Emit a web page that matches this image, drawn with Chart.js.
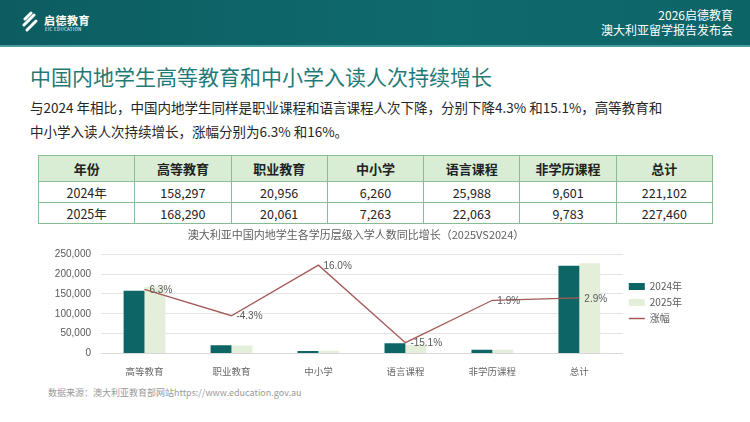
<!DOCTYPE html>
<html>
<head>
<meta charset="utf-8">
<script src="https://cdn.jsdelivr.net/npm/chart.js@4"></script>
<style>
  body { margin: 0; width: 750px; height: 422px; overflow: hidden; background: #fff; font-family: "Noto Sans CJK SC", "Noto Sans", sans-serif; position: relative; }
  .header { position: absolute; left: 0; top: 0; width: 750px; height: 45px; background: linear-gradient(90deg, #0c5d61, #0f6a6d 60%, #0d6467); border-bottom: 2px solid #4a9f9c; }
  .logo { position: absolute; left: 22px; top: 11px; color: #fff; }
  .logo .cn { position: absolute; left: 22px; top: 1px; font-size: 11px; font-weight: 700; white-space: nowrap; letter-spacing: 0.5px; }
  .logo .en { position: absolute; left: 23px; top: 15px; font-size: 4.5px; white-space: nowrap; letter-spacing: 0.3px; }
  .hright { position: absolute; right: 17px; top: 7px; color: #fff; font-size: 12px; line-height: 15px; text-align: right; }
  .title { position: absolute; left: 30px; top: 61px; font-size: 21px; color: #1f7a77; white-space: nowrap; }
  .para { position: absolute; left: 30px; top: 95px; width: 700px; font-size: 13.5px; line-height: 24px; color: #262626; }
  table { position: absolute; left: 38px; top: 155px; width: 675px; border-collapse: collapse; table-layout: fixed; }
  td, th { border: 1px solid #86bd94; text-align: center; padding: 0; color: #222; }
  th { height: 25px; background: #d9edd4; font-size: 13px; font-weight: 700; }
  td { height: 20px; font-size: 12.5px; }
  .chartbox { position: absolute; left: 20px; top: 224px; width: 710px; height: 159px; }
  .foot { position: absolute; left: 48px; top: 386px; font-size: 9px; color: #9a9a9a; white-space: nowrap; }
</style>
</head>
<body>
<div class="header">
  <div class="logo">
    <svg width="18" height="22" viewBox="0 0 18 22">
      <path d="M3 8 L9 2" stroke="#fff" stroke-width="3" stroke-linecap="round"/>
      <path d="M2 14 L12 4" stroke="#fff" stroke-width="3" stroke-linecap="round"/>
      <path d="M5 19 L14 10" stroke="#fff" stroke-width="3" stroke-linecap="round"/>
    </svg>
    <span class="cn">启德教育</span>
    <span class="en">EIC EDUCATION</span>
  </div>
  <div class="hright">2026启德教育<br>澳大利亚留学报告发布会</div>
</div>
<div class="title">中国内地学生高等教育和中小学入读人次持续增长</div>
<div class="para">与2024 年相比，中国内地学生同样是职业课程和语言课程人次下降，分别下降4.3% 和15.1%，高等教育和<br>中小学入读人次持续增长，涨幅分别为6.3% 和16%。</div>
<table id="tbl"></table>
<div class="chartbox"><canvas id="myChart"></canvas></div>
<div class="foot">数据来源：澳大利亚教育部网站https://www.education.gov.au</div>
<script>
// data
const categories = ['高等教育', '职业教育', '中小学', '语言课程', '非学历课程', '总计'];
const years = ['2024年', '2025年'];
const values2024 = [158297, 20956, 6260, 25988, 9601, 221102];
const values2025 = [168290, 20061, 7263, 22063, 9783, 227460];
const growth = [6.3, -4.3, 16.0, -15.1, 1.9, 2.9];
const yTicks = [0, 50000, 100000, 150000, 200000, 250000];

// table
const fmt = v => v.toLocaleString('en-US');
let html = '<tr><th>年份</th>' + categories.map(c => '<th>' + c + '</th>').join('') + '</tr>';
[values2024, values2025].forEach((row, i) => {
    html += '<tr><td>' + years[i] + '</td>' + row.map(v => '<td>' + fmt(v) + '</td>').join('') + '</tr>';
});
document.getElementById('tbl').innerHTML = html;

// percent labels next to the line points
const lineLabels = {
    id: 'lineLabels',
    afterDatasetsDraw(chart) {
        const ctx = chart.ctx;
        const meta = chart.getDatasetMeta(2);
        ctx.save();
        ctx.font = '10px "Liberation Sans", "Noto Sans", sans-serif';
        ctx.fillStyle = '#595959';
        ctx.textBaseline = 'middle';
        meta.data.forEach((pt, i) => {
            ctx.fillText(growth[i].toFixed(1) + '%', pt.x + 5, pt.y + 1);
        });
        ctx.restore();
    }
};

const data = {
    labels: categories,
    datasets: [
        {
            label: years[0],
            data: values2024,
            backgroundColor: '#0e6566',
            categoryPercentage: 0.48,
            barPercentage: 1,
            order: 2
        }, {
            label: years[1],
            data: values2025,
            backgroundColor: '#e3efd9',
            categoryPercentage: 0.48,
            barPercentage: 1,
            order: 2
        }, {
            type: 'line',
            label: '涨幅',
            data: growth,
            yAxisID: 'y2',
            borderColor: '#a65a58',
            backgroundColor: '#a65a58',
            borderWidth: 1.3,
            pointRadius: 0,
            tension: 0,
            order: 1
        }
    ]
};

const config = {
    type: 'bar',
    data,
    plugins: [lineLabels],
    options: {
        responsive: true,
        maintainAspectRatio: false,
        animation: false,
        layout: { padding: { right: 38, bottom: 2 } },
        plugins: {
            title: {
                display: true,
                text: '澳大利亚中国内地学生各学历层级入学人数同比增长（2025VS2024）',
                color: '#606060',
                font: { size: 11, weight: 'normal', family: '"Noto Sans CJK SC", sans-serif' },
                padding: { top: 4, bottom: 13 }
            },
            legend: {
                position: 'right',
                labels: {
                    usePointStyle: true,
                    pointStyleWidth: 16,
                    boxHeight: 7,
                    padding: 6,
                    color: '#595959',
                    font: { size: 10, family: '"Noto Sans CJK SC", sans-serif' },
                    generateLabels(chart) {
                        const items = Chart.defaults.plugins.legend.labels.generateLabels(chart);
                        items.forEach(it => {
                            it.pointStyle = it.datasetIndex === 2 ? 'line' : 'rect';
                            it.lineWidth = it.datasetIndex === 2 ? 1.5 : 0;
                        });
                        return items.sort((a, b) => a.datasetIndex - b.datasetIndex);
                    }
                }
            },
            tooltip: { enabled: false }
        },
        scales: {
            x: {
                grid: { display: false },
                border: { color: '#d9d9d9' },
                ticks: {
                    color: '#666',
                    padding: 4,
                    font: { size: 9.5, family: '"Noto Sans CJK SC", serif' }
                }
            },
            y: {
                min: 0,
                max: 250000,
                afterBuildTicks(scale) {
                    scale.ticks = yTicks.map(v => ({ value: v }));
                },
                afterFit(scale) { scale.width = 81; },
                grid: { color: '#e4e4e4', drawTicks: false },
                border: { display: false },
                ticks: {
                    color: '#595959',
                    padding: 10,
                    font: { size: 10, family: '"Liberation Sans", sans-serif' },
                    callback: v => fmt(v)
                }
            },
            y2: {
                display: false,
                min: -19.5,
                max: 20.4
            }
        }
    }
};

const myChart = new Chart(document.getElementById('myChart'), config);
</script>
</body>
</html>
